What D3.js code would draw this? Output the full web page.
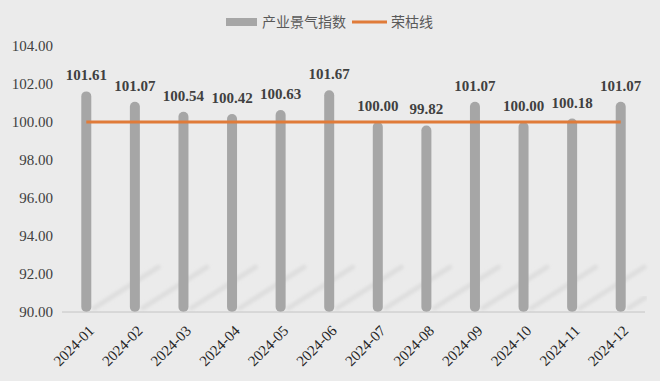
<!DOCTYPE html>
<html>
<head>
<meta charset="utf-8">
<script src="https://cdn.jsdelivr.net/npm/d3@7"></script>
<style>
  body { margin: 0; background: #ebebeb; }
  svg { display: block; background: #ebebeb; }
  .serif { font-family: "Times New Roman", Times, "Liberation Serif", serif; }
  .cjk { font-family: "Noto Sans CJK SC", sans-serif; }
</style>
</head>
<body>
<svg width="660" height="381"></svg>
<script>
var months = ["2024-01", "2024-02", "2024-03", "2024-04", "2024-05", "2024-06",
  "2024-07", "2024-08", "2024-09", "2024-10", "2024-11", "2024-12"]
var indexValues = [101.61, 101.07, 100.54, 100.42, 100.63, 101.67,
  100.00, 99.82, 101.07, 100.00, 100.18, 101.07]
var boomLine = [100, 100, 100, 100, 100, 100, 100, 100, 100, 100, 100, 100]
var yTicks = [90, 92, 94, 96, 98, 100, 102, 104]
var seriesNames = ["产业景气指数", "荣枯线"]

var svg = d3.select("svg"),
  margin = {top: 46, right: 15, bottom: 69, left: 62},
  width = +svg.attr("width") - margin.left - margin.right,
  height = +svg.attr("height") - margin.top - margin.bottom,
  g = svg.append("g").attr("transform", "translate(" + margin.left + "," + margin.top + ")")

var x = d3.scaleBand().domain(months).range([0, width])
var y = d3.scaleLinear().domain([90, 104]).range([height, 0])

var blur = svg.append("defs").append("filter").attr("id", "soft")
blur.append("feGaussianBlur").attr("stdDeviation", 1.5)

// faint diagonal shadows behind bars
g.selectAll(".shadow")
  .data(indexValues)
  .enter().append("line")
  .attr("x1", (d, i) => x(months[i]) + x.bandwidth() / 2 + 8)
  .attr("y1", height - 4)
  .attr("x2", (d, i) => Math.min(x(months[i]) + x.bandwidth() / 2 + 72, width))
  .attr("y2", (d, i) => height - 4 - (Math.min(x(months[i]) + x.bandwidth() / 2 + 72, width) - (x(months[i]) + x.bandwidth() / 2 + 8)) * 0.64)
  .attr("stroke", "#dedede")
  .attr("stroke-width", 5)
  .attr("stroke-linecap", "round")
  .attr("filter", "url(#soft)")

// y axis labels
g.selectAll(".ytick")
  .data(yTicks)
  .enter().append("text")
  .attr("class", "serif")
  .attr("x", -9)
  .attr("y", d => y(d))
  .attr("dy", "0.35em")
  .attr("text-anchor", "end")
  .attr("font-size", 15)
  .attr("fill", "#404040")
  .text(d => d.toFixed(2))

// bars (rounded)
var barW = 10
g.selectAll(".bar")
  .data(indexValues)
  .enter().append("rect")
  .attr("x", (d, i) => x(months[i]) + x.bandwidth() / 2 - barW / 2)
  .attr("y", d => y(d))
  .attr("width", barW)
  .attr("height", d => height - y(d))
  .attr("rx", barW / 2)
  .attr("fill", "#a6a6a6")

// x axis line
g.append("line")
  .attr("x1", 0).attr("x2", width)
  .attr("y1", height).attr("y2", height)
  .attr("stroke", "#c4c4c4")
  .attr("stroke-width", 1)

// boom-bust line
var line = d3.line()
  .x((d, i) => x(months[i]) + x.bandwidth() / 2)
  .y(d => y(d))
g.append("path")
  .datum(boomLine)
  .attr("fill", "none")
  .attr("stroke", "#e07b39")
  .attr("stroke-width", 3)
  .attr("d", line)

// value labels
g.selectAll(".vlabel")
  .data(indexValues)
  .enter().append("text")
  .attr("class", "serif")
  .attr("x", (d, i) => x(months[i]) + x.bandwidth() / 2)
  .attr("y", d => y(d) - 11)
  .attr("text-anchor", "middle")
  .attr("font-weight", "bold")
  .attr("font-size", 15)
  .attr("fill", "#404040")
  .text(d => d.toFixed(2))

// x labels
g.selectAll(".xlabel")
  .data(months)
  .enter().append("text")
  .attr("class", "serif")
  .attr("transform", d => "translate(" + (x(d) + x.bandwidth() / 2 + 5) + "," + (height + 16) + ") rotate(-45)")
  .attr("text-anchor", "end")
  .attr("dy", "0.35em")
  .attr("font-size", 15)
  .attr("fill", "#262626")
  .text(d => d)

// legend
var legend = svg.append("g")
legend.append("rect")
  .attr("x", 226).attr("y", 18).attr("width", 31).attr("height", 8)
  .attr("fill", "#a6a6a6")
legend.append("text")
  .attr("class", "cjk")
  .attr("x", 262).attr("y", 22).attr("dy", "0.35em")
  .attr("font-size", 14)
  .attr("fill", "#595959")
  .text(seriesNames[0])
legend.append("line")
  .attr("x1", 352).attr("x2", 387).attr("y1", 22).attr("y2", 22)
  .attr("stroke", "#e07b39").attr("stroke-width", 3)
legend.append("text")
  .attr("class", "cjk")
  .attr("x", 391).attr("y", 22).attr("dy", "0.35em")
  .attr("font-size", 14)
  .attr("fill", "#595959")
  .text(seriesNames[1])
</script>
</body>
</html>
